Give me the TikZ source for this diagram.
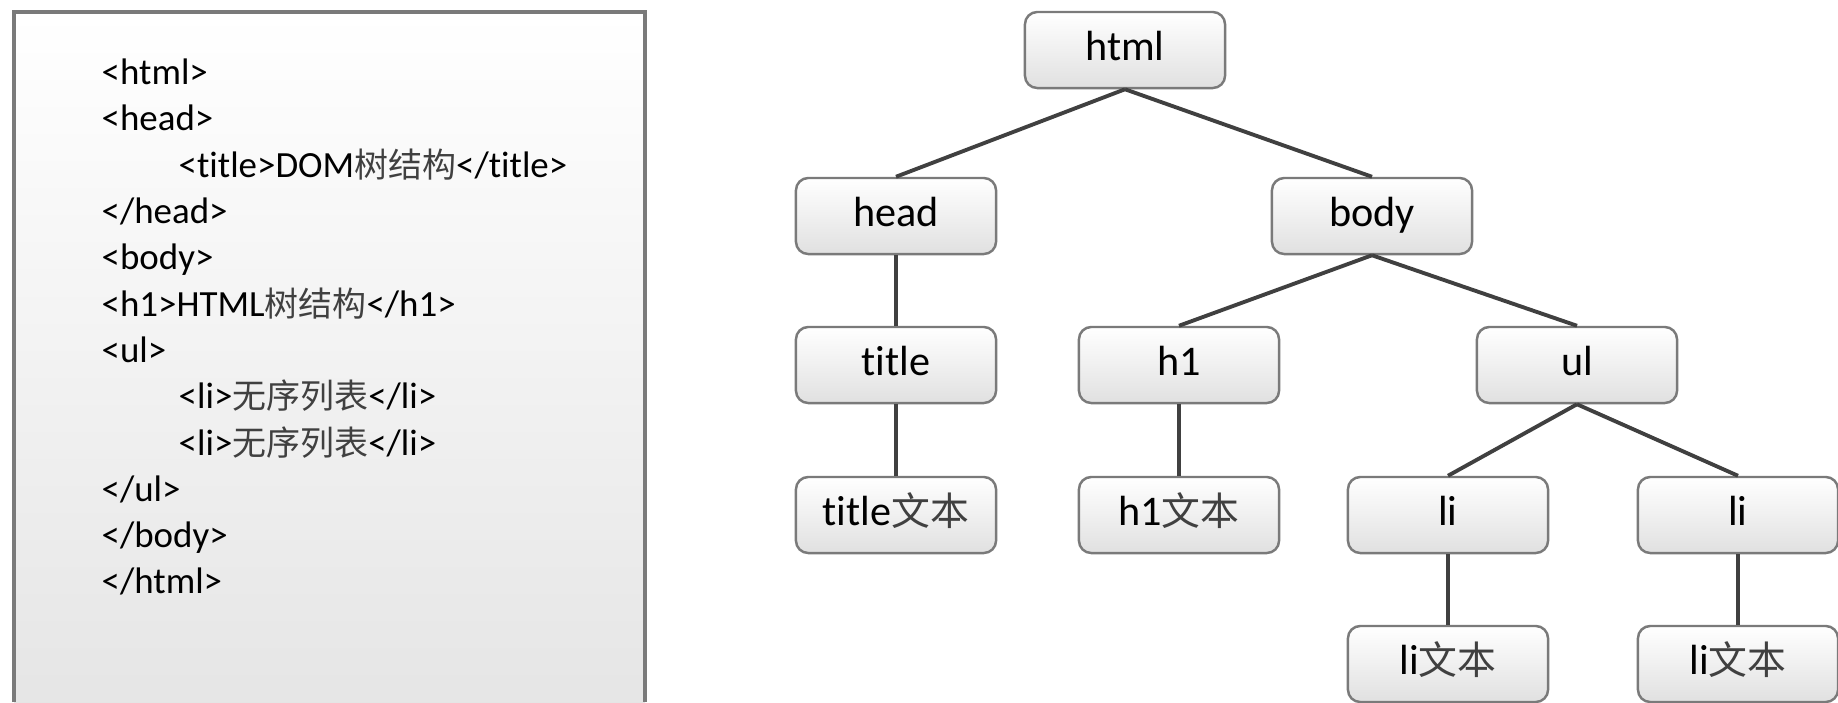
\documentclass[tikz,border=0pt]{standalone}
\usepackage{fontspec}
\setmainfont{Carlito}[Ligatures=NoCommon]
\newfontfamily\cjk{Noto Sans CJK SC}[Scale=0.92]
\newcommand{\zh}[1]{{\cjk\color{black!75}#1}}
\definecolor{lineGray}{HTML}{404040}
\definecolor{boxGray}{HTML}{7A7A7A}

\begin{document}
\begin{tikzpicture}
[x=0.01cm,y=-0.01cm,%
  treeNode/.style={draw=boxGray,line width=0.7pt,rounded corners=3.5pt,top color=white,bottom color=black!12,
    minimum width=2cm,minimum height=0.76cm,inner sep=0pt,text height=8.5pt,text depth=2.5pt,
    font=\fontsize{12}{14}\selectfont},
  treeEdge/.style={draw=lineGray,line width=1.1pt},
  codeLine/.style={anchor=west,inner sep=0pt,text height=7.5pt,text depth=2pt,font=\fontsize{10.5}{12}\selectfont}]
\useasboundingbox (0,0) rectangle (1838,702);
%% source code box
\shade[top color=white,bottom color=black!10] (14,12) rectangle (645,702);
\draw[boxGray,line width=0.9pt] (14,702) -- (14,12) -- (645,12) -- (645,702);
\foreach \n/\ind/\txt in {
  1/0/{<html>}, 2/0/{<head>}, 3/1/{<title>DOM\zh{树结构}</title>}, 4/0/{</head>},
  5/0/{<body>}, 6/0/{<h1>HTML\zh{树结构}</h1>}, 7/0/{<ul>}, 8/1/{<li>\zh{无序列表}</li>},
  9/1/{<li>\zh{无序列表}</li>}, 10/0/{</ul>}, 11/0/{</body>}, 12/0/{</html>}}
{
  \node[codeLine] (code\n) at (101+77*\ind,28.7+46.3*\n) {\txt};
}
%% tree nodes
\foreach \name/\x/\y/\label in {
  html/1125/50/html, head/896/216/head, body/1372/216/body,
  title/896/365/title, h1/1179/365/h1, ul/1577/365/ul,
  titletext/896/515/{title\zh{文本}}, h1text/1179/515/{h1\zh{文本}},
  li1/1448/515/li, li2/1738/515/li,
  li1text/1448/664/{li\zh{文本}}, li2text/1738/664/{li\zh{文本}}}
{
  \node[treeNode] (\name) at (\x,\y) {\label};
}
%% tree edges
\path
\foreach \parent/\child in {html/head, html/body, head/title, body/h1, body/ul,
  title/titletext, h1/h1text, ul/li1, ul/li2, li1/li1text, li2/li2text}
{
  (\parent.south) edge[treeEdge] (\child.north)
};
\end{tikzpicture}
\end{document}
